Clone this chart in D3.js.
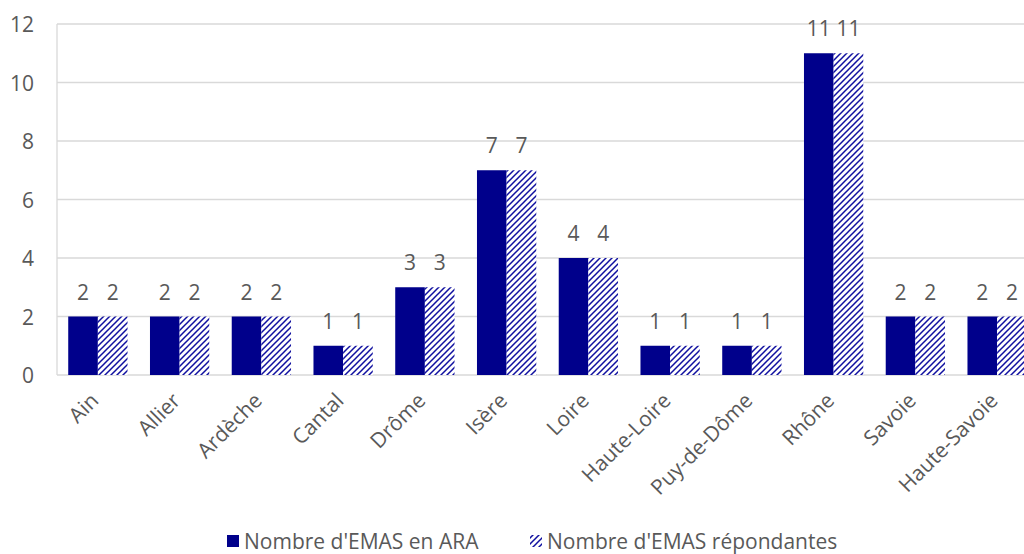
<!DOCTYPE html>
<html><head><meta charset="utf-8">
<script src="https://cdn.jsdelivr.net/npm/d3@7"></script>
<style>
html,body{margin:0;padding:0;background:#fff;overflow:hidden}
text{font-family:"Open Sans","Noto Sans",sans-serif;fill:#595959}
</style></head><body>
<svg id="c" width="1024" height="554"></svg>
<script>
const categories = ["Ain","Allier","Ardèche","Cantal","Drôme","Isère","Loire","Haute-Loire","Puy-de-Dôme","Rhône","Savoie","Haute-Savoie"];
const seriesNames = ["Nombre d'EMAS en ARA","Nombre d'EMAS répondantes"];
const emasARA = [2,2,2,1,3,7,4,1,1,11,2,2];
const emasRepondantes = [2,2,2,1,3,7,4,1,1,11,2,2];
const yTicks = [0,2,4,6,8,10,12];

(function(){
const svg = d3.select("#c");
const dark = "#00008B";
const defs = svg.append("defs");
const pat = defs.append("pattern").attr("id","hatch").attr("patternUnits","userSpaceOnUse")
  .attr("width",6).attr("height",6);
pat.append("rect").attr("width",6).attr("height",6).attr("fill","#fff");
pat.append("path").attr("d","M-1,7 L7,-1 M-2,2 L2,-2 M4,8 L8,4")
  .attr("stroke","#1010A0").attr("stroke-width",1.5);

const pl = 57, pr = 1038, pt = 24, pb = 375;
const x0 = d3.scaleBand().domain(categories).range([pl,pr]).padding(0);
const bw = x0.bandwidth();
const x1 = d3.scaleBand().domain([0,1]).range([(bw-59.3)/2,(bw+59.3)/2]).padding(0);
const y = d3.scaleLinear().domain([0,12]).range([pb,pt]);

// grid
svg.append("g").selectAll("line").data(yTicks).join("line")
  .attr("x1",pl).attr("x2",1024).attr("y1",d=>y(d)).attr("y2",d=>y(d))
  .attr("stroke","#d9d9d9").attr("stroke-width",1.3);
svg.append("line").attr("x1",pl).attr("x2",pl).attr("y1",pt).attr("y2",pb)
  .attr("stroke","#d9d9d9").attr("stroke-width",1.3);

// y axis labels
const yAxis = d3.axisLeft(y).tickValues(yTicks).tickSize(0).tickPadding(0);
const ya = svg.append("g").attr("transform",`translate(34,0)`).call(yAxis);
ya.select(".domain").remove();
ya.selectAll("text").style("font-size","21px").style("fill","#595959")
  .style("font-family","'Open Sans','Noto Sans',sans-serif").attr("dy","0.36em");

// bars
const series = [emasARA, emasRepondantes];
const g = svg.append("g");
categories.forEach((c,i)=>{
  series.forEach((s,j)=>{
    const xx = x0(c)+x1(j);
    g.append("rect").attr("x",xx).attr("y",y(s[i])).attr("width",x1.bandwidth())
      .attr("height",y(0)-y(s[i])).attr("fill", j===0?dark:"url(#hatch)");
    g.append("text").attr("x",xx+x1.bandwidth()/2).attr("y",y(s[i])-17)
      .attr("text-anchor","middle").style("font-size","21px").text(s[i]);
  });
});

// x labels
const xa = svg.append("g");
categories.forEach(c=>{
  const cx = x0(c)+bw/2;
  xa.append("text").attr("transform",`translate(${cx+2},${402}) rotate(-45)`)
    .attr("text-anchor","end").style("font-size","21px").text(c);
});

// legend
const lg = svg.append("g");
lg.append("rect").attr("x",227).attr("y",535).attr("width",12).attr("height",12).attr("fill",dark);
lg.append("text").attr("x",244).attr("y",549).style("font-size","21px").text(seriesNames[0]);
lg.append("rect").attr("x",530).attr("y",535).attr("width",12).attr("height",12).attr("fill","url(#hatch)");
lg.append("text").attr("x",547).attr("y",549).style("font-size","21px").text(seriesNames[1]);
})();
</script></body></html>
